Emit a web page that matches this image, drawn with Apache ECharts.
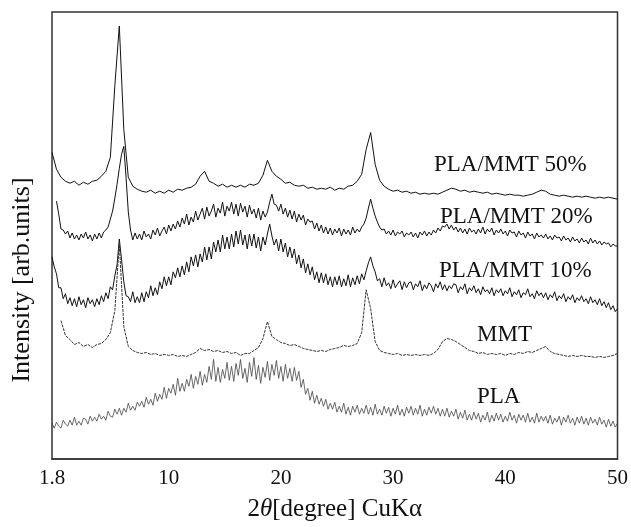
<!DOCTYPE html>
<html>
<head>
<meta charset="utf-8">
<script src="https://cdn.jsdelivr.net/npm/echarts@6/dist/echarts.min.js"></script>
<style>
html,body{margin:0;padding:0;background:#fff;}
#chart{width:631px;height:527px;}
</style>
</head>
<body>
<div id="chart"></div>
<script>
// 2θ grid (degrees), 0.4° step - smoother scans
var twoTheta = [-0.4,0,0.4,0.8,1.2,1.6,2.0,2.4,2.8,3.2,3.6,4.0,4.4,4.8,5.2,5.6,6.0,6.4,6.8,7.2,7.6,8.0,8.4,8.8,9.2,9.6,
10.0,10.4,10.8,11.2,11.6,12.0,12.4,12.8,13.2,13.6,14.0,14.4,14.8,15.2,15.6,16.0,16.4,16.8,17.2,17.6,18.0,18.4,18.8,19.2,19.6,
20.0,20.4,20.8,21.2,21.6,22.0,22.4,22.8,23.2,23.6,24.0,24.4,24.8,25.2,25.6,26.0,26.4,26.8,27.2,27.6,28.0,28.4,28.8,29.2,29.6,
30.0,30.4,30.8,31.2,31.6,32.0,32.4,32.8,33.2,33.6,34.0,34.4,34.8,35.2,35.6,36.0,36.4,36.8,37.2,37.6,38.0,38.4,38.8,39.2,39.6,
40.0,40.4,40.8,41.2,41.6,42.0,42.4,42.8,43.2,43.6,44.0,44.4,44.8,45.2,45.6,46.0,46.4,46.8,47.2,47.6,48.0,48.4,48.8,49.2,49.6,50.0];

// 2θ grid (degrees), 0.2° step - noisy scans
var twoThetaFine = [-0.4,-0.2,0,0.2,0.4,0.6,0.8,1.0,1.2,1.4,1.6,1.8,2.0,2.2,2.4,2.6,2.8,3.0,3.2,3.4,
3.6,3.8,4.0,4.2,4.4,4.6,4.8,5.0,5.2,5.4,5.6,5.8,6.0,6.2,6.4,6.6,6.8,7.0,7.2,7.4,
7.6,7.8,8.0,8.2,8.4,8.6,8.8,9.0,9.2,9.4,9.6,9.8,10.0,10.2,10.4,10.6,10.8,11.0,11.2,11.4,
11.6,11.8,12.0,12.2,12.4,12.6,12.8,13.0,13.2,13.4,13.6,13.8,14.0,14.2,14.4,14.6,14.8,15.0,15.2,15.4,
15.6,15.8,16.0,16.2,16.4,16.6,16.8,17.0,17.2,17.4,17.6,17.8,18.0,18.2,18.4,18.6,18.8,19.0,19.2,19.4,
19.6,19.8,20.0,20.2,20.4,20.6,20.8,21.0,21.2,21.4,21.6,21.8,22.0,22.2,22.4,22.6,22.8,23.0,23.2,23.4,
23.6,23.8,24.0,24.2,24.4,24.6,24.8,25.0,25.2,25.4,25.6,25.8,26.0,26.2,26.4,26.6,26.8,27.0,27.2,27.4,
27.6,27.8,28.0,28.2,28.4,28.6,28.8,29.0,29.2,29.4,29.6,29.8,30.0,30.2,30.4,30.6,30.8,31.0,31.2,31.4,
31.6,31.8,32.0,32.2,32.4,32.6,32.8,33.0,33.2,33.4,33.6,33.8,34.0,34.2,34.4,34.6,34.8,35.0,35.2,35.4,
35.6,35.8,36.0,36.2,36.4,36.6,36.8,37.0,37.2,37.4,37.6,37.8,38.0,38.2,38.4,38.6,38.8,39.0,39.2,39.4,
39.6,39.8,40.0,40.2,40.4,40.6,40.8,41.0,41.2,41.4,41.6,41.8,42.0,42.2,42.4,42.6,42.8,43.0,43.2,43.4,
43.6,43.8,44.0,44.2,44.4,44.6,44.8,45.0,45.2,45.4,45.6,45.8,46.0,46.2,46.4,46.6,46.8,47.0,47.2,47.4,
47.6,47.8,48.0,48.2,48.4,48.6,48.8,49.0,49.2,49.4,49.6,49.8,50.0];

// Intensities (arb. units, curves offset as in the figure)
var pla_mmt50 = [308,291,283,279,277,279,275,278,276,279,280,284,289,303,375,435,331,283,274,271,269,268,270,267,269,267,
270,268,271,270,272,273,276,284,289,279,277,274,276,273,275,273,275,273,276,275,277,285,300,289,284,
281,277,278,275,274,275,272,273,271,272,271,273,270,272,271,274,275,279,286,311,328,296,280,274,271,
269,270,268,269,267,268,266,267,266,267,266,268,270,272,271,269,270,268,269,268,267,268,266,267,266,
265,266,265,265,264,265,266,268,270,269,266,265,264,265,264,263,264,263,264,263,262,263,262,263,262,261];

var pla_mmt20 = [null,null,259,246,231,230,226,229,222,227,221,225,220,226,222,228,221,225,219,226,
221,227,222,228,230,233,241,249,262,276,292,306,314,283,248,230,220,227,221,226,
220,229,223,226,221,230,225,232,224,229,233,226,235,229,236,231,239,233,242,236,
246,235,243,238,249,240,246,252,241,253,244,249,256,243,252,247,258,244,254,249,
258,246,256,244,257,248,254,243,255,246,251,242,252,240,249,243,248,258,266,256,
255,249,256,246,252,243,250,241,249,238,246,240,245,235,241,238,239,231,237,229,
235,227,233,226,232,225,231,227,232,224,231,226,230,225,233,227,231,228,233,236,
242,252,261,252,244,238,233,230,231,226,229,225,230,224,228,226,229,223,227,225,
228,223,227,222,228,225,229,224,228,225,230,227,232,229,234,233,236,231,235,230,
233,228,232,227,231,226,232,228,230,226,231,227,233,226,231,228,232,225,230,227,
231,226,229,224,230,227,228,223,229,225,227,222,228,224,226,221,227,223,225,222,
226,221,224,220,225,222,223,219,224,220,222,218,223,219,221,217,222,218,220,216,
222,217,220,216,219,215,218,216,217,213,216,214,214];

var pla_mmt10 = [203,193,186,172,172,161,166,156,162,154,161,153,163,155,160,152,162,156,160,153,
161,155,164,158,167,161,173,170,184,195,221,200,178,164,163,158,168,157,163,157,
167,158,168,162,174,164,172,165,178,171,183,174,183,175,188,182,192,183,194,185,
198,188,203,194,205,193,206,198,213,200,213,201,218,208,220,208,225,211,223,211,
226,213,229,216,230,215,225,211,226,214,226,212,223,209,223,215,226,236,224,215,
221,209,221,208,217,203,213,202,211,196,205,192,201,187,196,185,193,180,188,177,
187,177,186,175,183,173,183,175,184,173,181,174,185,173,182,175,184,176,186,180,
189,197,203,194,188,179,181,173,182,174,177,171,180,172,176,179,170,178,172,177,
178,170,176,173,179,169,175,171,177,174,168,176,172,178,170,175,169,174,171,176,
175,167,173,170,176,166,172,169,174,167,171,165,173,168,170,166,172,164,170,167,
171,164,169,166,172,163,168,165,170,162,167,165,171,163,166,161,169,164,167,162,
167,160,165,162,168,159,164,161,166,158,163,160,165,157,162,159,164,158,161,156,
163,157,160,155,161,154,158,152,157,150,154,148,151];

var mmt = [null,null,139,124,120,115,117,113,115,112,115,116,120,127,149,216,133,113,109,107,106,107,105,106,104,105,
104,105,103,104,103,105,107,111,109,110,108,109,107,108,106,107,104,106,106,109,112,121,138,123,120,
117,116,114,115,113,111,110,109,108,109,108,110,111,112,114,113,114,116,127,170,151,118,109,107,106,
105,106,104,105,104,105,104,105,104,106,110,118,121,120,118,115,112,109,108,106,107,105,106,105,106,
104,106,105,107,106,108,107,109,111,113,108,106,105,104,103,104,103,104,103,103,102,103,102,103,104,106];

var pla = [36,31,37,33,31,39,35,33,39,34,42,34,38,34,41,40,35,43,38,42,
38,45,40,43,39,48,43,42,50,45,51,44,51,47,56,49,53,49,57,53,
58,52,62,55,60,54,66,58,65,60,72,61,71,66,75,64,81,68,76,68,
80,73,85,71,83,75,88,74,85,77,93,80,100,78,92,77,90,81,97,79,
93,78,96,84,100,81,91,77,97,83,102,80,94,76,92,82,98,79,95,84,
99,81,93,78,95,81,91,78,92,79,88,72,80,65,71,59,68,56,64,55,
61,53,60,50,56,50,57,47,53,47,56,45,52,44,53,47,54,45,51,46,
54,45,52,44,55,45,50,44,53,46,52,43,51,45,54,44,50,43,52,46,
53,44,51,45,54,43,50,44,52,46,53,45,51,43,50,43,51,42,48,43,
50,40,47,41,49,39,45,39,47,40,46,37,44,39,47,37,44,38,46,39,
45,37,43,38,47,39,44,36,45,39,44,37,46,37,42,36,46,37,43,38,
43,36,44,35,41,37,43,34,42,37,44,36,41,34,42,36,43,35,41,34,
42,36,40,34,42,35,39,32,40,33,38,32,36];

var xTickValues = [-0.4, 10, 20, 30, 40, 50];
var xTickLabels = ['1.8', '10', '20', '30', '40', '50'];
var seriesNames = ['PLA/MMT 50%', 'PLA/MMT 20%', 'PLA/MMT 10%', 'MMT', 'PLA'];

function pairs(xs, ys) {
  return xs.map(function (x, i) { return [x, ys[i]]; });
}

var FONT = "'Liberation Serif','Times New Roman',serif";
var chart = echarts.init(document.getElementById('chart'), null, {renderer: 'canvas'});

var lineStyles = [
  {color: '#111', width: 1},
  {color: '#111', width: 1},
  {color: '#111', width: 1},
  {color: '#333', width: 1, type: [3, 1]},
  {color: '#444', width: 0.8}
];
var datasets = [[twoTheta, pla_mmt50], [twoThetaFine, pla_mmt20], [twoThetaFine, pla_mmt10], [twoTheta, mmt], [twoThetaFine, pla]];

var labelPos = [[434, 165], [440, 217], [439, 271], [477, 335], [477, 397]];

chart.setOption({
  animation: false,
  backgroundColor: '#fff',
  grid: {left: 52, right: 12, top: 12, bottom: 66, show: true, borderColor: '#333', borderWidth: 1.5, backgroundColor: 'transparent'},
  xAxis: {
    type: 'value', min: -0.4, max: 50,
    axisLine: {show: true, lineStyle: {color: '#333', width: 1.5}},
    axisTick: {show: false},
    splitLine: {show: false},
    axisLabel: {
      customValues: xTickValues,
      showMinLabel: true, showMaxLabel: true,
      margin: 9,
      color: '#111', fontFamily: FONT, fontSize: 21,
      formatter: function (v) {
        var i = xTickValues.indexOf(v);
        return i >= 0 ? xTickLabels[i] : '';
      }
    },
    name: '2{i|θ}[degree] CuKα',
    nameLocation: 'middle', nameGap: 38,
    nameTextStyle: {color: '#111', fontFamily: FONT, fontSize: 25, rich: {i: {fontStyle: 'italic', fontFamily: FONT, fontSize: 25, color: '#111'}}}
  },
  yAxis: {
    type: 'value', min: 0, max: 449,
    axisLine: {show: false}, axisTick: {show: false}, axisLabel: {show: false}, splitLine: {show: false}
  },
  series: datasets.map(function (d, k) {
    return {
      name: seriesNames[k], type: 'line', data: pairs(d[0], d[1]), showSymbol: false, symbol: 'none',
      lineStyle: lineStyles[k], connectNulls: false, clip: true
    };
  }),
  graphic: seriesNames.map(function (n, k) {
    return {type: 'text', x: labelPos[k][0], y: labelPos[k][1],
      style: {text: n, fill: '#111', font: '23px ' + FONT, textAlign: 'left', textVerticalAlign: 'middle'}};
  }).concat([{
    type: 'text', x: 22, y: 280, rotation: Math.PI / 2,
    style: {text: 'Intensity [arb.units]', fill: '#111', font: '26px ' + FONT, textAlign: 'center', textVerticalAlign: 'middle'}
  }])
});
</script>
</body>
</html>
